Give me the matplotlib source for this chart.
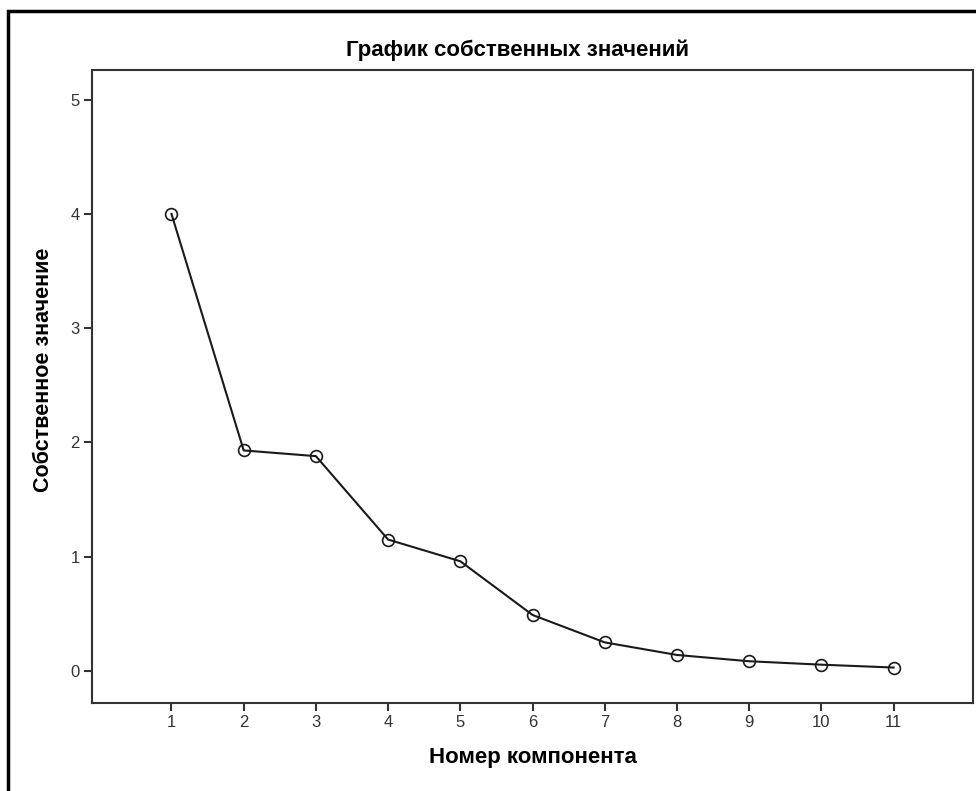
import matplotlib
matplotlib.use('Agg')
import matplotlib.pyplot as plt
from matplotlib.patches import Rectangle

plt.rcParams['font.family'] = ['Liberation Sans', 'DejaVu Sans']

# Data
components = [1, 2, 3, 4, 5, 6, 7, 8, 9, 10, 11]
eigenvalues = [4.00, 1.93, 1.88, 1.15, 0.96, 0.49, 0.25, 0.14, 0.085, 0.055, 0.03]
y_ticks = [0, 1, 2, 3, 4, 5]

title = 'График собственных значений'
x_label = 'Номер компонента'
y_label = 'Собственное значение'

fig = plt.figure(figsize=(9.76, 7.91), dpi=100)
ax = fig.add_axes([0.0943, 0.1113, 0.9027, 0.8003])

# Line with open circle markers
ax.plot(components, eigenvalues, color='#1a1a1a', linewidth=1.5,
        marker='o', markersize=8.5, markerfacecolor='none',
        markeredgecolor='#1a1a1a', markeredgewidth=1.2)

ax.set_xlim(-0.1, 12.1)
ax.set_ylim(-0.28, 5.26)
ax.set_xticks(components)
ax.set_yticks(y_ticks)

for s in ax.spines.values():
    s.set_color('#333333')
    s.set_linewidth(1.5)
ax.tick_params(direction='out', length=6, width=1.5, color='#333333',
               labelsize=12, labelcolor='#333333', pad=3)

ax.set_xlabel(x_label, fontsize=16, fontweight='bold', labelpad=12)
ax.set_ylabel(y_label, fontsize=15.5, fontweight='bold')
ax.yaxis.set_label_coords(-0.043, 0.526)

fig.text(518 / 976, 1 - 50 / 791, title, ha='center', va='center',
         fontsize=16, fontweight='bold')

# Outer frame (only left and top edges visible in the crop)
frame = Rectangle((8 / 976, -0.1), 1.2, 1 - 11 / 791 + 0.1,
                  transform=fig.transFigure, fill=False,
                  edgecolor='black', linewidth=2.5, clip_on=False)
fig.add_artist(frame)

fig.savefig('out.png', dpi=100)
